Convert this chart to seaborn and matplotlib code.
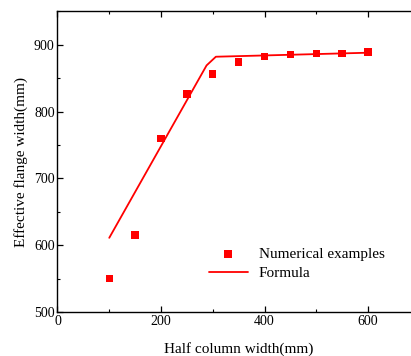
import numpy as np
import pandas as pd
import matplotlib
matplotlib.use('Agg')
import matplotlib.pyplot as plt
import seaborn as sns
from matplotlib.ticker import MultipleLocator

# numerical examples
half_width = [100, 150, 200, 250, 300, 350, 400, 450, 500, 550, 600]
flange_width = [550, 615, 760, 826, 856, 874, 882, 885, 887, 887, 889]

# formula curve (piecewise)
formula_x = [100, 288, 306, 600]
formula_y = [611, 869, 882, 888]

sns.set_style('ticks')
plt.rcParams['font.family'] = ['Liberation Serif', 'DejaVu Serif']
plt.rcParams['xtick.direction'] = 'in'
plt.rcParams['ytick.direction'] = 'in'
plt.rcParams['text.color'] = 'black'
plt.rcParams['axes.labelcolor'] = 'black'
plt.rcParams['xtick.color'] = 'black'
plt.rcParams['ytick.color'] = 'black'
plt.rcParams['axes.edgecolor'] = 'black'

df_pts = pd.DataFrame({'x': half_width, 'y': flange_width})
df_line = pd.DataFrame({'x': formula_x, 'y': formula_y})

fig = plt.figure(figsize=(4.11, 3.56), dpi=100)
ax = fig.add_axes([0.1399, 0.1236, 0.8815, 0.8447])

sns.scatterplot(data=df_pts, x='x', y='y', marker='s', s=28, color='#ff0000',
                edgecolor='none', label='Numerical examples', ax=ax, zorder=3)
sns.lineplot(data=df_line, x='x', y='y', color='#ff0000', linewidth=1.3,
             label='Formula', ax=ax)

ax.set_xlim(0, 700)
ax.set_ylim(500, 950)
ax.xaxis.set_major_locator(MultipleLocator(200))
ax.xaxis.set_minor_locator(MultipleLocator(100))
ax.yaxis.set_major_locator(MultipleLocator(100))
ax.yaxis.set_minor_locator(MultipleLocator(50))
ax.tick_params(which='major', length=4, width=0.9, labelsize=10, top=True, right=False, pad=2)
ax.tick_params(which='minor', length=2, width=0.8, top=True)
ax.tick_params(axis='x', labeltop=False)
for sp in ax.spines.values():
    sp.set_linewidth(1.0)
ax.spines['right'].set_visible(False)

ax.set_xlabel('Half column width(mm)', fontsize=11, labelpad=10)
ax.set_ylabel('Effective flange width(mm)', fontsize=11, labelpad=4)

leg = ax.legend(loc='upper left', bbox_to_anchor=(0.40, 0.235), frameon=False,
                fontsize=11, handlelength=2.6, handletextpad=0.7, labelspacing=0.35,
                borderaxespad=0)
leg.legend_handles[0].set_sizes([32])

fig.savefig('out.png', dpi=100)
